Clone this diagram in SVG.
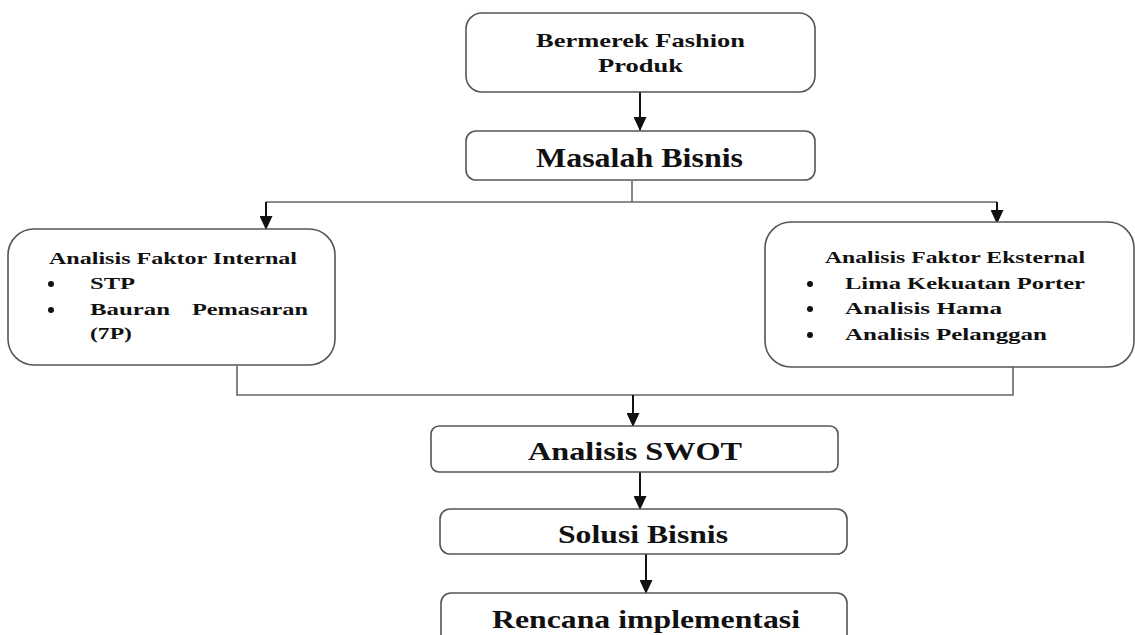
<svg xmlns="http://www.w3.org/2000/svg" width="1135" height="635" viewBox="0 0 1135 635">
<style>
.box{fill:#fff;stroke:#555;stroke-width:1.6}
.t{font-family:"Liberation Serif","Times New Roman",serif;font-weight:bold;fill:#111}
.arr{stroke:#111;stroke-width:2;fill:none}
.ln{stroke:#666;stroke-width:1.6;fill:none}
</style>
<defs>
<marker id="ah" viewBox="0 0 14 13" refX="13" refY="6.5" markerWidth="14" markerHeight="13" markerUnits="userSpaceOnUse" orient="auto">
<path d="M0,0 L14,6.5 L0,13 Z" fill="#111"/>
</marker>
</defs>
<rect width="1135" height="635" fill="#fff"/>
<g id="connectors">
<line class="arr" x1="640" y1="92" x2="640" y2="130" marker-end="url(#ah)"/>
<polyline class="ln" points="632,181 632,202"/>
<polyline class="ln" points="266,202 997,202"/>
<line class="arr" x1="266" y1="202" x2="266" y2="229" marker-end="url(#ah)"/>
<line class="arr" x1="997" y1="202" x2="997" y2="223" marker-end="url(#ah)"/>
<polyline class="ln" points="237,366 237,395 1013,395 1013,367"/>
<line class="arr" x1="633" y1="395" x2="633" y2="426" marker-end="url(#ah)"/>
<line class="arr" x1="640" y1="472" x2="640" y2="509" marker-end="url(#ah)"/>
<line class="arr" x1="646" y1="554" x2="646" y2="593" marker-end="url(#ah)"/>
</g>
<g id="n-produk">
<rect class="box" x="466" y="13" width="349" height="79" rx="16"/>
<text class="t" x="536" y="47" font-size="19" textLength="209" lengthAdjust="spacingAndGlyphs">Bermerek Fashion</text>
<text class="t" x="598" y="72" font-size="19" textLength="85" lengthAdjust="spacingAndGlyphs">Produk</text>
</g>
<g id="n-masalah">
<rect class="box" x="466" y="131" width="349" height="49" rx="10"/>
<text class="t" x="536" y="167" font-size="27" textLength="207" lengthAdjust="spacingAndGlyphs">Masalah Bisnis</text>
</g>
<g id="n-internal">
<rect class="box" x="8" y="229" width="327" height="136" rx="26"/>
<text class="t" x="49" y="264" font-size="16" textLength="248" lengthAdjust="spacingAndGlyphs">Analisis Faktor Internal</text>
<circle cx="51" cy="284" r="3" fill="#111"/>
<text class="t" x="90" y="289" font-size="16" textLength="45" lengthAdjust="spacingAndGlyphs">STP</text>
<circle cx="51" cy="310" r="3" fill="#111"/>
<text class="t" x="90" y="315" font-size="16" textLength="80" lengthAdjust="spacingAndGlyphs">Bauran</text>
<text class="t" x="192" y="315" font-size="16" textLength="116" lengthAdjust="spacingAndGlyphs">Pemasaran</text>
<text class="t" x="90" y="339" font-size="16" textLength="42" lengthAdjust="spacingAndGlyphs">(7P)</text>
</g>
<g id="n-eksternal">
<rect class="box" x="765" y="222" width="369" height="145" rx="26"/>
<text class="t" x="825" y="263" font-size="16" textLength="260" lengthAdjust="spacingAndGlyphs">Analisis Faktor Eksternal</text>
<circle cx="810" cy="284" r="3" fill="#111"/>
<text class="t" x="845" y="289" font-size="16" textLength="240" lengthAdjust="spacingAndGlyphs">Lima Kekuatan Porter</text>
<circle cx="810" cy="309" r="3" fill="#111"/>
<text class="t" x="845" y="314" font-size="16" textLength="157" lengthAdjust="spacingAndGlyphs">Analisis Hama</text>
<circle cx="810" cy="335" r="3" fill="#111"/>
<text class="t" x="845" y="340" font-size="16" textLength="202" lengthAdjust="spacingAndGlyphs">Analisis Pelanggan</text>
</g>
<g id="n-swot">
<rect class="box" x="431" y="426" width="407" height="46" rx="8"/>
<text class="t" x="528" y="460" font-size="25" textLength="214" lengthAdjust="spacingAndGlyphs">Analisis SWOT</text>
</g>
<g id="n-solusi">
<rect class="box" x="440" y="509" width="407" height="45" rx="10"/>
<text class="t" x="558" y="543" font-size="25" textLength="170" lengthAdjust="spacingAndGlyphs">Solusi Bisnis</text>
</g>
<g id="n-rencana">
<rect class="box" x="441" y="593" width="406" height="60" rx="10"/>
<text class="t" x="492" y="628" font-size="25" textLength="308" lengthAdjust="spacingAndGlyphs">Rencana implementasi</text>
</g>
</svg>
